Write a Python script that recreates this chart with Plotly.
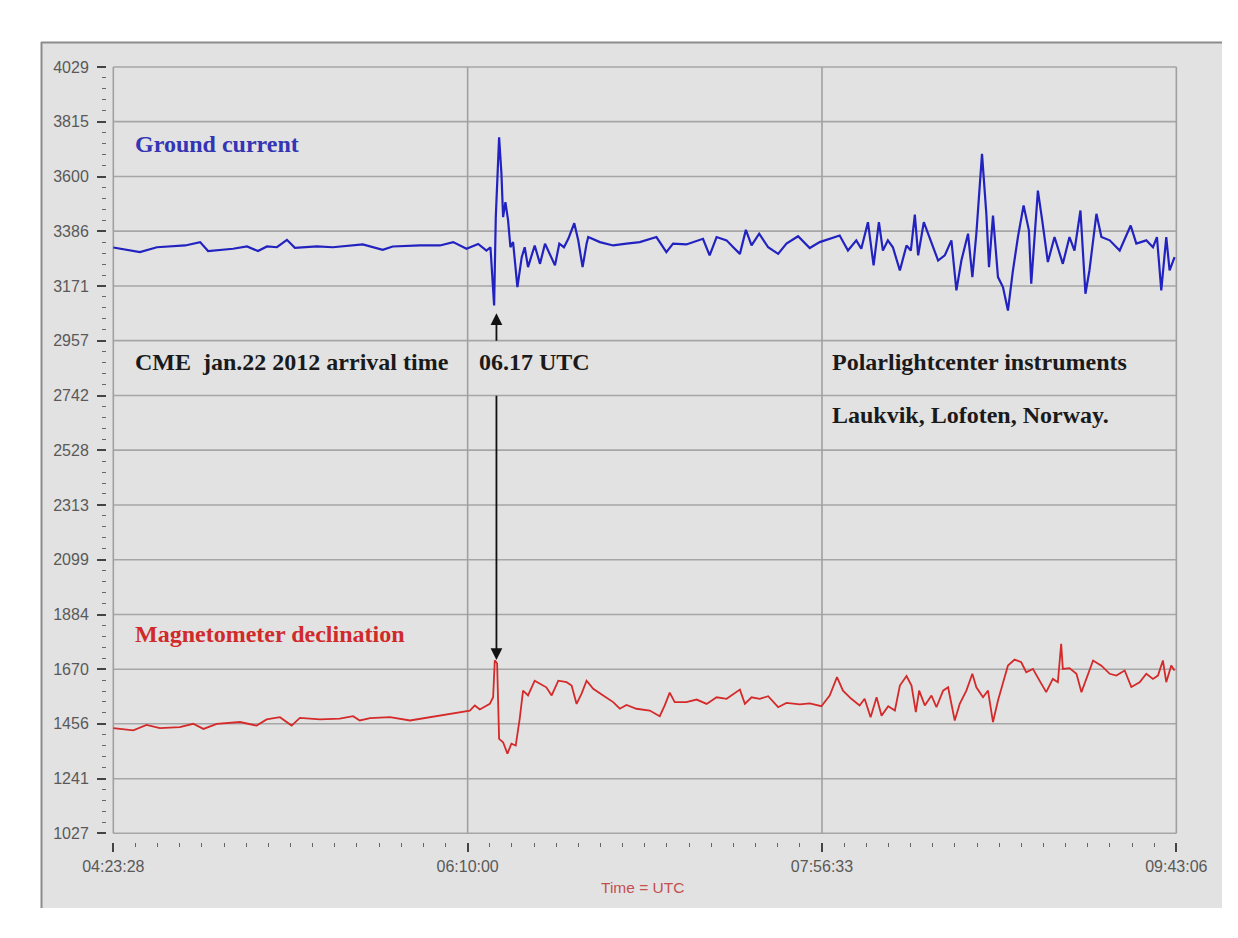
import plotly.graph_objects as go

# ---------------- data ----------------
x_tick_labels = ["04:23:28", "06:10:00", "07:56:33", "09:43:06"]
y_tick_labels = ["1027", "1241", "1456", "1670", "1884", "2099", "2313", "2528",
                 "2742", "2957", "3171", "3386", "3600", "3815", "4029"]

# minutes after 04:23:28
gc_t = [0, 8.0, 13.1, 21.6, 26.1, 28.5, 36.0, 40.2, 43.5, 46.2, 49.2, 52.2, 54.6, 61.2, 66.0,
        75.0, 81.0, 84.0, 92.2, 98.2, 102.2, 106.2, 109.7, 112.2, 113.4, 114.5, 115.0, 116.0,
        116.7, 117.2, 117.9, 118.7, 119.4, 120.2, 121.5, 122.8, 123.7, 124.7, 126.7, 128.3,
        129.8, 131.3, 132.8, 134.1, 135.5, 136.8, 138.6, 139.8, 141.1, 142.3, 142.8, 146.3,
        150.3, 154.3, 158.3, 163.3, 166.3, 168.3, 172.3, 177.3, 179.3, 181.4, 184.4, 186.4,
        188.4, 190.2, 191.9, 194.2, 196.9, 199.9, 202.4, 205.9, 209.4, 212.4, 215.4, 218.4,
        220.9, 223.4, 224.9, 226.9, 228.6, 230.2, 231.4, 232.9, 234.4, 236.5, 238.5, 239.8,
        241.0, 242.0, 243.7, 246.0, 248.0, 250.0, 252.0, 253.5, 255.0, 257.0, 258.3, 259.5,
        261.2, 262.5, 263.3, 264.5, 266.0, 267.5, 269.0, 270.5, 272.0, 273.7, 275.3, 276.0,
        278.0, 279.3, 281.0, 283.0, 285.5, 287.5, 289.0, 290.8, 292.3, 293.5, 295.6, 297.1,
        299.6, 302.6, 305.9, 307.6, 310.6, 312.6, 313.8, 315.1, 316.6, 317.6, 319.1]
gc_v = [3322, 3304, 3323, 3330, 3343, 3308, 3317, 3326, 3308, 3326, 3323, 3352, 3321, 3326, 3323,
        3334, 3313, 3326, 3330, 3330, 3343, 3317, 3336, 3310, 3323, 3095, 3441, 3754,
        3611, 3441, 3500, 3428, 3323, 3343, 3167, 3284, 3323, 3245, 3330, 3258,
        3337, 3291, 3252, 3337, 3323, 3356, 3417, 3350, 3245, 3337, 3363, 3343,
        3330, 3337, 3343, 3363, 3304, 3337, 3334, 3356, 3291, 3363, 3350, 3323,
        3297, 3391, 3330, 3376, 3323, 3297, 3337, 3366, 3320, 3343, 3356, 3369,
        3310, 3350, 3317, 3421, 3252, 3421, 3310, 3350, 3323, 3232, 3330, 3310,
        3451, 3291, 3421, 3337, 3271, 3291, 3350, 3154, 3271, 3376, 3206, 3376,
        3689, 3454, 3245, 3447, 3206, 3167, 3075, 3232, 3363, 3487, 3389, 3180,
        3545, 3428, 3265, 3363, 3258, 3363, 3310, 3467, 3141, 3232, 3454, 3363,
        3350, 3310, 3408, 3337, 3350, 3323, 3363, 3154, 3363, 3232, 3284]

md_t = [0, 6.0, 10.0, 14.0, 20.0, 24.0, 27.1, 31.1, 38.1, 43.1, 46.1, 50.1, 53.6, 56.1, 62.1,
        68.1, 72.1, 74.1, 77.2, 83.2, 89.2, 98.2, 104.2, 107.2, 108.7, 110.2, 113.2, 114.2,
        114.7, 115.4, 116.0, 117.2, 118.5, 119.7, 121.0, 122.2, 123.2, 124.7, 126.7, 128.7,
        130.2, 131.8, 133.8, 136.3, 137.8, 139.3, 140.8, 142.3, 144.3, 147.3, 150.3, 152.3,
        154.3, 157.3, 161.3, 164.3, 165.8, 167.3, 168.8, 172.3, 175.4, 178.4, 181.4, 184.4,
        186.4, 188.4, 189.9, 191.9, 194.4, 196.9, 199.9, 202.4, 206.4, 209.4, 212.9, 215.4,
        217.6, 219.4, 221.9, 224.4, 225.9, 227.7, 229.5, 231.0, 233.0, 235.0, 236.5, 238.5,
        240.0, 241.3, 242.3, 244.0, 246.0, 247.5, 249.5, 251.0, 253.0, 254.5, 256.5, 258.3,
        259.5, 261.5, 263.0, 264.5, 266.0, 267.5, 269.0, 271.0, 273.0, 274.5, 276.5, 278.5,
        280.5, 282.5, 284.0, 285.0, 285.5, 287.5, 289.6, 291.1, 292.6, 294.6, 297.1, 299.6,
        301.6, 304.1, 306.1, 308.6, 310.6, 312.6, 314.1, 315.6, 316.6, 318.1, 319.1]
md_v = [1439, 1430, 1452, 1439, 1443, 1456, 1436, 1456, 1463, 1449, 1473, 1482, 1449, 1479, 1473,
        1476, 1486, 1469, 1478, 1482, 1469, 1488, 1502, 1508, 1528, 1512, 1534, 1560,
        1705, 1692, 1397, 1384, 1339, 1378, 1371, 1476, 1586, 1567, 1625, 1612,
        1599, 1567, 1625, 1619, 1606, 1534, 1574, 1625, 1593, 1567, 1541, 1515,
        1530, 1515, 1508, 1486, 1528, 1578, 1541, 1541, 1551, 1534, 1560, 1554,
        1573, 1590, 1534, 1560, 1554, 1564, 1521, 1538, 1532, 1536, 1525, 1567,
        1639, 1586, 1554, 1528, 1554, 1482, 1560, 1488, 1525, 1508, 1606, 1643,
        1606, 1502, 1586, 1528, 1567, 1521, 1586, 1599, 1469, 1534, 1586, 1652,
        1599, 1560, 1586, 1463, 1547, 1619, 1684, 1708, 1697, 1658, 1671, 1625,
        1580, 1632, 1619, 1769, 1671, 1674, 1652, 1580, 1632, 1704, 1684, 1652,
        1645, 1665, 1600, 1619, 1652, 1632, 1645, 1704, 1619, 1684, 1665]

# ---------------- derived axis values ----------------
def clock_to_sec(s):
    h, m, sec = map(int, s.split(":"))
    return h * 3600 + m * 60 + sec

t0 = clock_to_sec(x_tick_labels[0])
x_tick_vals = [(clock_to_sec(s) - t0) / 60.0 for s in x_tick_labels]
y_tick_vals = [int(s) for s in y_tick_labels]

x_step = (x_tick_vals[-1] - x_tick_vals[0]) / (3 * 16)
x_minor = [x_tick_vals[0] + i * x_step for i in range(3 * 16 + 1)]
y_step = (y_tick_vals[-1] - y_tick_vals[0]) / (14 * 5)
y_minor = [y_tick_vals[0] + i * y_step for i in range(14 * 5 + 1)]

# page has an 8px body margin: figure is placed at (8, 8) in the window
OFF = 8
W, H = 1238 - OFF, 938 - OFF
ML, MR, MT, MB = 99, 60, 58, 96
PW, PH = W - ML - MR, H - MT - MB

def PX(px):
    return (px - OFF - ML) / PW

def PY(py):
    return (H - MB - (py - OFF)) / PH

fig = go.Figure()
fig.add_trace(go.Scatter(x=gc_t, y=gc_v, mode="lines", line=dict(color="#2222c0", width=2.2),
                         showlegend=False, hoverinfo="skip"))
fig.add_trace(go.Scatter(x=md_t, y=md_v, mode="lines", line=dict(color="#d42a2a", width=1.8),
                         showlegend=False, hoverinfo="skip"))

shapes = []
# chart panel
shapes.append(dict(type="rect", xref="paper", yref="paper", x0=PX(41), x1=PX(1222), y0=PY(908), y1=PY(42),
                   fillcolor="#e2e2e2", line=dict(width=0), layer="below"))
shapes.append(dict(type="line", xref="paper", yref="paper", x0=PX(41), x1=PX(1222), y0=PY(42.5), y1=PY(42.5),
                   line=dict(color="#8c8c8c", width=2), layer="below"))
shapes.append(dict(type="line", xref="paper", yref="paper", x0=PX(41.5), x1=PX(41.5), y0=PY(908), y1=PY(42),
                   line=dict(color="#8c8c8c", width=2), layer="below"))
# grid
for yv in y_tick_vals:
    shapes.append(dict(type="line", xref="x", yref="y", x0=x_tick_vals[0], x1=x_tick_vals[-1], y0=yv, y1=yv,
                       line=dict(color="#a6a6a6", width=1.6), layer="below"))
for xv in x_tick_vals:
    shapes.append(dict(type="line", xref="x", yref="y", x0=xv, x1=xv, y0=y_tick_vals[0], y1=y_tick_vals[-1],
                       line=dict(color="#a0a0a0", width=1.6), layer="below"))

serif = dict(family="Liberation Serif", size=24, weight="bold")
annotations = [
    dict(x=6.0, y=3727, xref="x", yref="y", text="Ground current", showarrow=False,
         xanchor="left", yanchor="middle", font=dict(serif, color="#3434b4")),
    dict(x=6.0, y=1808, xref="x", yref="y", text="Magnetometer declination", showarrow=False,
         xanchor="left", yanchor="middle", font=dict(serif, color="#d02a2a")),
    dict(x=6.0, y=2875, xref="x", yref="y", text="CME&nbsp; jan.22 2012 arrival time", showarrow=False,
         xanchor="left", yanchor="middle", font=dict(serif, color="#1a1a1a")),
    dict(x=109.3, y=2875, xref="x", yref="y", text="06.17 UTC", showarrow=False,
         xanchor="left", yanchor="middle", font=dict(serif, color="#1a1a1a")),
    dict(x=215.5, y=2875, xref="x", yref="y", text="Polarlightcenter instruments", showarrow=False,
         xanchor="left", yanchor="middle", font=dict(serif, color="#1a1a1a")),
    dict(x=215.5, y=2666, xref="x", yref="y", text="Laukvik, Lofoten, Norway.", showarrow=False,
         xanchor="left", yanchor="middle", font=dict(serif, color="#1a1a1a")),
    # arrows
    dict(x=115.2, y=3064, ax=115.2, ay=2951, xref="x", yref="y", axref="x", ayref="y", text="",
         showarrow=True, arrowhead=2, arrowsize=1.3, arrowwidth=1.8, arrowcolor="#111111", standoff=0),
    dict(x=115.2, y=1706, ax=115.2, ay=2747, xref="x", yref="y", axref="x", ayref="y", text="",
         showarrow=True, arrowhead=2, arrowsize=1.3, arrowwidth=1.8, arrowcolor="#111111", standoff=0),
    # axis title
    dict(x=(x_tick_vals[0] + x_tick_vals[-1]) / 2 - 0.6, y=PY(887), xref="x", yref="paper",
         text="Time = UTC", showarrow=False, xanchor="center", yanchor="middle",
         font=dict(family="Liberation Sans", size=15.5, color="#c45050")),
]

tickfont = dict(family="Liberation Sans", size=16, color="#595959")
fig.update_layout(
    width=W, height=H,
    margin=dict(l=ML, r=MR, t=MT, b=MB, pad=0),
    paper_bgcolor="#ffffff",
    plot_bgcolor="rgba(0,0,0,0)",
    shapes=shapes,
    annotations=annotations,
    xaxis=dict(range=[-1.9, 320.13], tickmode="array", tickvals=x_tick_vals, ticktext=x_tick_labels,
               ticks="outside", ticklen=9, tickwidth=1.5, tickcolor="#444444", tickfont=tickfont,
               ticklabelstandoff=1,
               showgrid=False, zeroline=False, showline=False,
               minor=dict(tickmode="array", tickvals=x_minor, ticks="outside", ticklen=4,
                          tickwidth=1.2, tickcolor="#666666", showgrid=False)),
    yaxis=dict(range=[993, 4033], tickmode="array", tickvals=y_tick_vals, ticktext=y_tick_labels,
               ticks="outside", ticklen=9, tickwidth=1.5, tickcolor="#444444", tickfont=tickfont,
               ticklabelstandoff=5,
               showgrid=False, zeroline=False, showline=False,
               minor=dict(tickmode="array", tickvals=y_minor, ticks="outside", ticklen=4,
                          tickwidth=1.2, tickcolor="#666666", showgrid=False)),
)

fig.write_html("out.html")
